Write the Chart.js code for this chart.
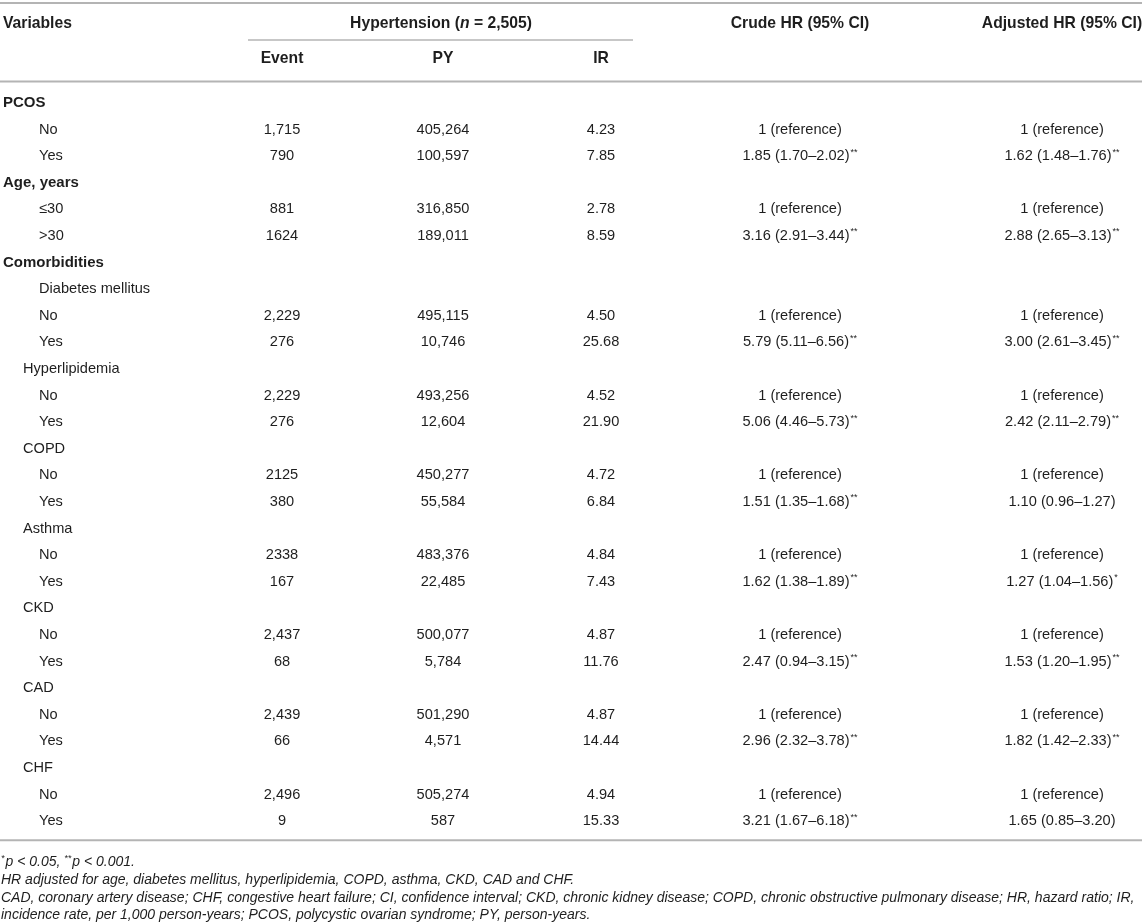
<!DOCTYPE html>
<html>
<head>
<meta charset="utf-8">
<script src="https://cdn.jsdelivr.net/npm/chart.js@4/dist/chart.umd.min.js"></script>
<style>
  html, body { margin: 0; padding: 0; background: #fff; }
  canvas { display: block; }
</style>
</head>
<body>
<canvas id="hrTable" width="1142" height="924"></canvas>
<script>
// Table rows (variable labels) and their indent level
const variables = ['PCOS', 'No', 'Yes', 'Age, years', '≤30', '>30', 'Comorbidities',
  'Diabetes mellitus', 'No', 'Yes', 'Hyperlipidemia', 'No', 'Yes', 'COPD', 'No', 'Yes',
  'Asthma', 'No', 'Yes', 'CKD', 'No', 'Yes', 'CAD', 'No', 'Yes', 'CHF', 'No', 'Yes'];
const levels = [0, 2, 2, 0, 2, 2, 0, 2, 2, 2, 1, 2, 2, 1, 2, 2, 1, 2, 2, 1, 2, 2, 1, 2, 2, 1, 2, 2];

// Hypertension columns
const events = [null, '1,715', '790', null, '881', '1624', null, null, '2,229', '276', null, '2,229', '276',
  null, '2125', '380', null, '2338', '167', null, '2,437', '68', null, '2,439', '66', null, '2,496', '9'];
const personYears = [null, '405,264', '100,597', null, '316,850', '189,011', null, null, '495,115', '10,746',
  null, '493,256', '12,604', null, '450,277', '55,584', null, '483,376', '22,485', null, '500,077', '5,784',
  null, '501,290', '4,571', null, '505,274', '587'];
const incidence = [null, '4.23', '7.85', null, '2.78', '8.59', null, null, '4.50', '25.68', null, '4.52', '21.90',
  null, '4.72', '6.84', null, '4.84', '7.43', null, '4.87', '11.76', null, '4.87', '14.44', null, '4.94', '15.33'];

// Hazard ratios
const REF = '1 (reference)';
const crudeHR = [null, REF, '1.85 (1.70–2.02)**', null, REF, '3.16 (2.91–3.44)**', null, null,
  REF, '5.79 (5.11–6.56)**', null, REF, '5.06 (4.46–5.73)**', null, REF, '1.51 (1.35–1.68)**',
  null, REF, '1.62 (1.38–1.89)**', null, REF, '2.47 (0.94–3.15)**', null, REF, '2.96 (2.32–3.78)**',
  null, REF, '3.21 (1.67–6.18)**'];
const adjustedHR = [null, REF, '1.62 (1.48–1.76)**', null, REF, '2.88 (2.65–3.13)**', null, null,
  REF, '3.00 (2.61–3.45)**', null, REF, '2.42 (2.11–2.79)**', null, REF, '1.10 (0.96–1.27)',
  null, REF, '1.27 (1.04–1.56)*', null, REF, '1.53 (1.20–1.95)**', null, REF, '1.82 (1.42–2.33)**',
  null, REF, '1.65 (0.85–3.20)'];

const columnTitles = ['Variables', 'Event', 'PY', 'IR', 'Crude HR (95% CI)', 'Adjusted HR (95% CI)'];
const groupTitle = ['Hypertension (', 'n', ' = 2,505)'];

const footnotes = [
  '*p < 0.05, **p < 0.001.',
  'HR adjusted for age, diabetes mellitus, hyperlipidemia, COPD, asthma, CKD, CAD and CHF.',
  'CAD, coronary artery disease; CHF, congestive heart failure; CI, confidence interval; CKD, chronic kidney disease; COPD, chronic obstructive pulmonary disease; HR, hazard ratio; IR,',
  'incidence rate, per 1,000 person-years; PCOS, polycystic ovarian syndrome; PY, person-years.'
];

// layout (x in px along the x scale, y in row units along the y scale)
const colX = [0, 282, 443, 601, 800, 1062];
const indent = [3, 23, 39];
const FONT = '"Liberation Sans", Arial, Helvetica, sans-serif';
const TEXT = '#1e1e1e';
const RULE = '#b4b4b4';

const columns = [variables, events, personYears, incidence, crudeHR, adjustedHR];

// draws a string, turning trailing asterisks into small superscripts
function drawCell(ctx, txt, x, y, align, font, supFont) {
  const m = txt.match(/^(.*?)(\**)$/);
  const main = m[1], stars = m[2];
  ctx.font = font;
  const wMain = ctx.measureText(main).width;
  ctx.font = supFont;
  const wStars = stars ? ctx.measureText(stars).width + 1 : 0;
  let left = x;
  if (align === 'center') left = x - (wMain + wStars) / 2;
  ctx.textAlign = 'left';
  ctx.textBaseline = 'middle';
  ctx.font = font;
  ctx.fillText(main, left, y);
  if (stars) {
    ctx.font = supFont;
    ctx.fillText(stars, left + wMain + 1, y - 4);
  }
}

function hLine(ctx, x1, x2, y, w) {
  ctx.beginPath();
  ctx.strokeStyle = RULE;
  ctx.lineWidth = w;
  ctx.moveTo(x1, y);
  ctx.lineTo(x2, y);
  ctx.stroke();
}

const tablePlugin = {
  id: 'tablePlugin',
  afterDatasetsDraw(chart) {
    const ctx = chart.ctx;
    const xs = chart.scales.x, ys = chart.scales.y;
    const px = v => xs.getPixelForValue(v);
    const py = v => ys.getPixelForValue(v);
    ctx.save();
    ctx.fillStyle = TEXT;

    // rules
    hLine(ctx, px(0), px(1142), py(-3.76), 2);
    hLine(ctx, px(248), px(633), py(-2.37), 1.5);
    hLine(ctx, px(0), px(1142), py(-0.81), 2);
    hLine(ctx, px(0), px(1142), py(27.72), 2);

    // header row 1
    const bold = 'bold 15.7px ' + FONT;
    const boldBody = 'bold 15px ' + FONT;
    ctx.textBaseline = 'middle';
    ctx.textAlign = 'left';
    ctx.font = bold;
    ctx.fillText(columnTitles[0], px(indent[0]), py(-3.0));
    // group title with italic n
    const parts = [[groupTitle[0], bold], [groupTitle[1], 'italic bold 15.7px ' + FONT], [groupTitle[2], bold]];
    let total = 0;
    parts.forEach(p => { ctx.font = p[1]; total += ctx.measureText(p[0]).width; });
    let gx = px(441) - total / 2;
    parts.forEach(p => { ctx.font = p[1]; ctx.fillText(p[0], gx, py(-3.0)); gx += ctx.measureText(p[0]).width; });
    ctx.textAlign = 'center';
    ctx.font = bold;
    ctx.fillText(columnTitles[4], px(colX[4]), py(-3.0));
    ctx.fillText(columnTitles[5], px(colX[5]), py(-3.0));
    // header row 2
    for (let c = 1; c <= 3; c++) ctx.fillText(columnTitles[c], px(colX[c]), py(-1.65));

    // body cells, positioned by the dataset points
    const body = '14.6px ' + FONT;
    const sup = '9px ' + FONT;
    chart.data.datasets.forEach((ds, di) => {
      const meta = chart.getDatasetMeta(di);
      meta.data.forEach((pt, i) => {
        const txt = columns[di][i];
        if (txt == null) return;
        if (di === 0) {
          const f = levels[i] === 0 ? boldBody : body;
          drawCell(ctx, txt, pt.x + indent[levels[i]], pt.y, 'left', f, sup);
        } else {
          drawCell(ctx, txt, pt.x, pt.y, 'center', body, sup);
        }
      });
    });

    // footnotes
    const it = 'italic 14px ' + FONT;
    const itSup = 'italic 9px ' + FONT;
    footnotes.forEach((line, k) => {
      const y = py(28.55 + k * 0.665);
      ctx.textAlign = 'left';
      if (k === 0) {
        // superscript asterisks
        let fx = px(1);
        line.split(/(\*+)/).forEach(seg => {
          if (!seg) return;
          if (seg[0] === '*') {
            ctx.font = itSup;
            ctx.fillText(seg, fx, y - 4);
          } else {
            ctx.font = it;
            ctx.fillText(seg, fx, y);
          }
          fx += ctx.measureText(seg).width + (seg[0] === '*' ? 1 : 0);
        });
      } else {
        ctx.font = it;
        ctx.fillText(line, px(1), y);
      }
    });
    ctx.restore();
  }
};

const ctx = document.getElementById('hrTable').getContext('2d');
new Chart(ctx, {
  type: 'scatter',
  data: {
    datasets: columns.map((col, c) => ({
      label: columnTitles[c],
      data: col.map((v, i) => ({ x: colX[c], y: i })),
      pointRadius: 0,
      pointHoverRadius: 0
    }))
  },
  options: {
    responsive: false,
    animation: false,
    events: [],
    layout: { padding: 0 },
    plugins: {
      legend: { display: false },
      tooltip: { enabled: false }
    },
    scales: {
      x: { type: 'linear', min: 0, max: 1142, display: false },
      y: { type: 'linear', min: -3.872, max: 30.865, reverse: true, display: false }
    }
  },
  plugins: [tablePlugin]
});
</script>
</body>
</html>
